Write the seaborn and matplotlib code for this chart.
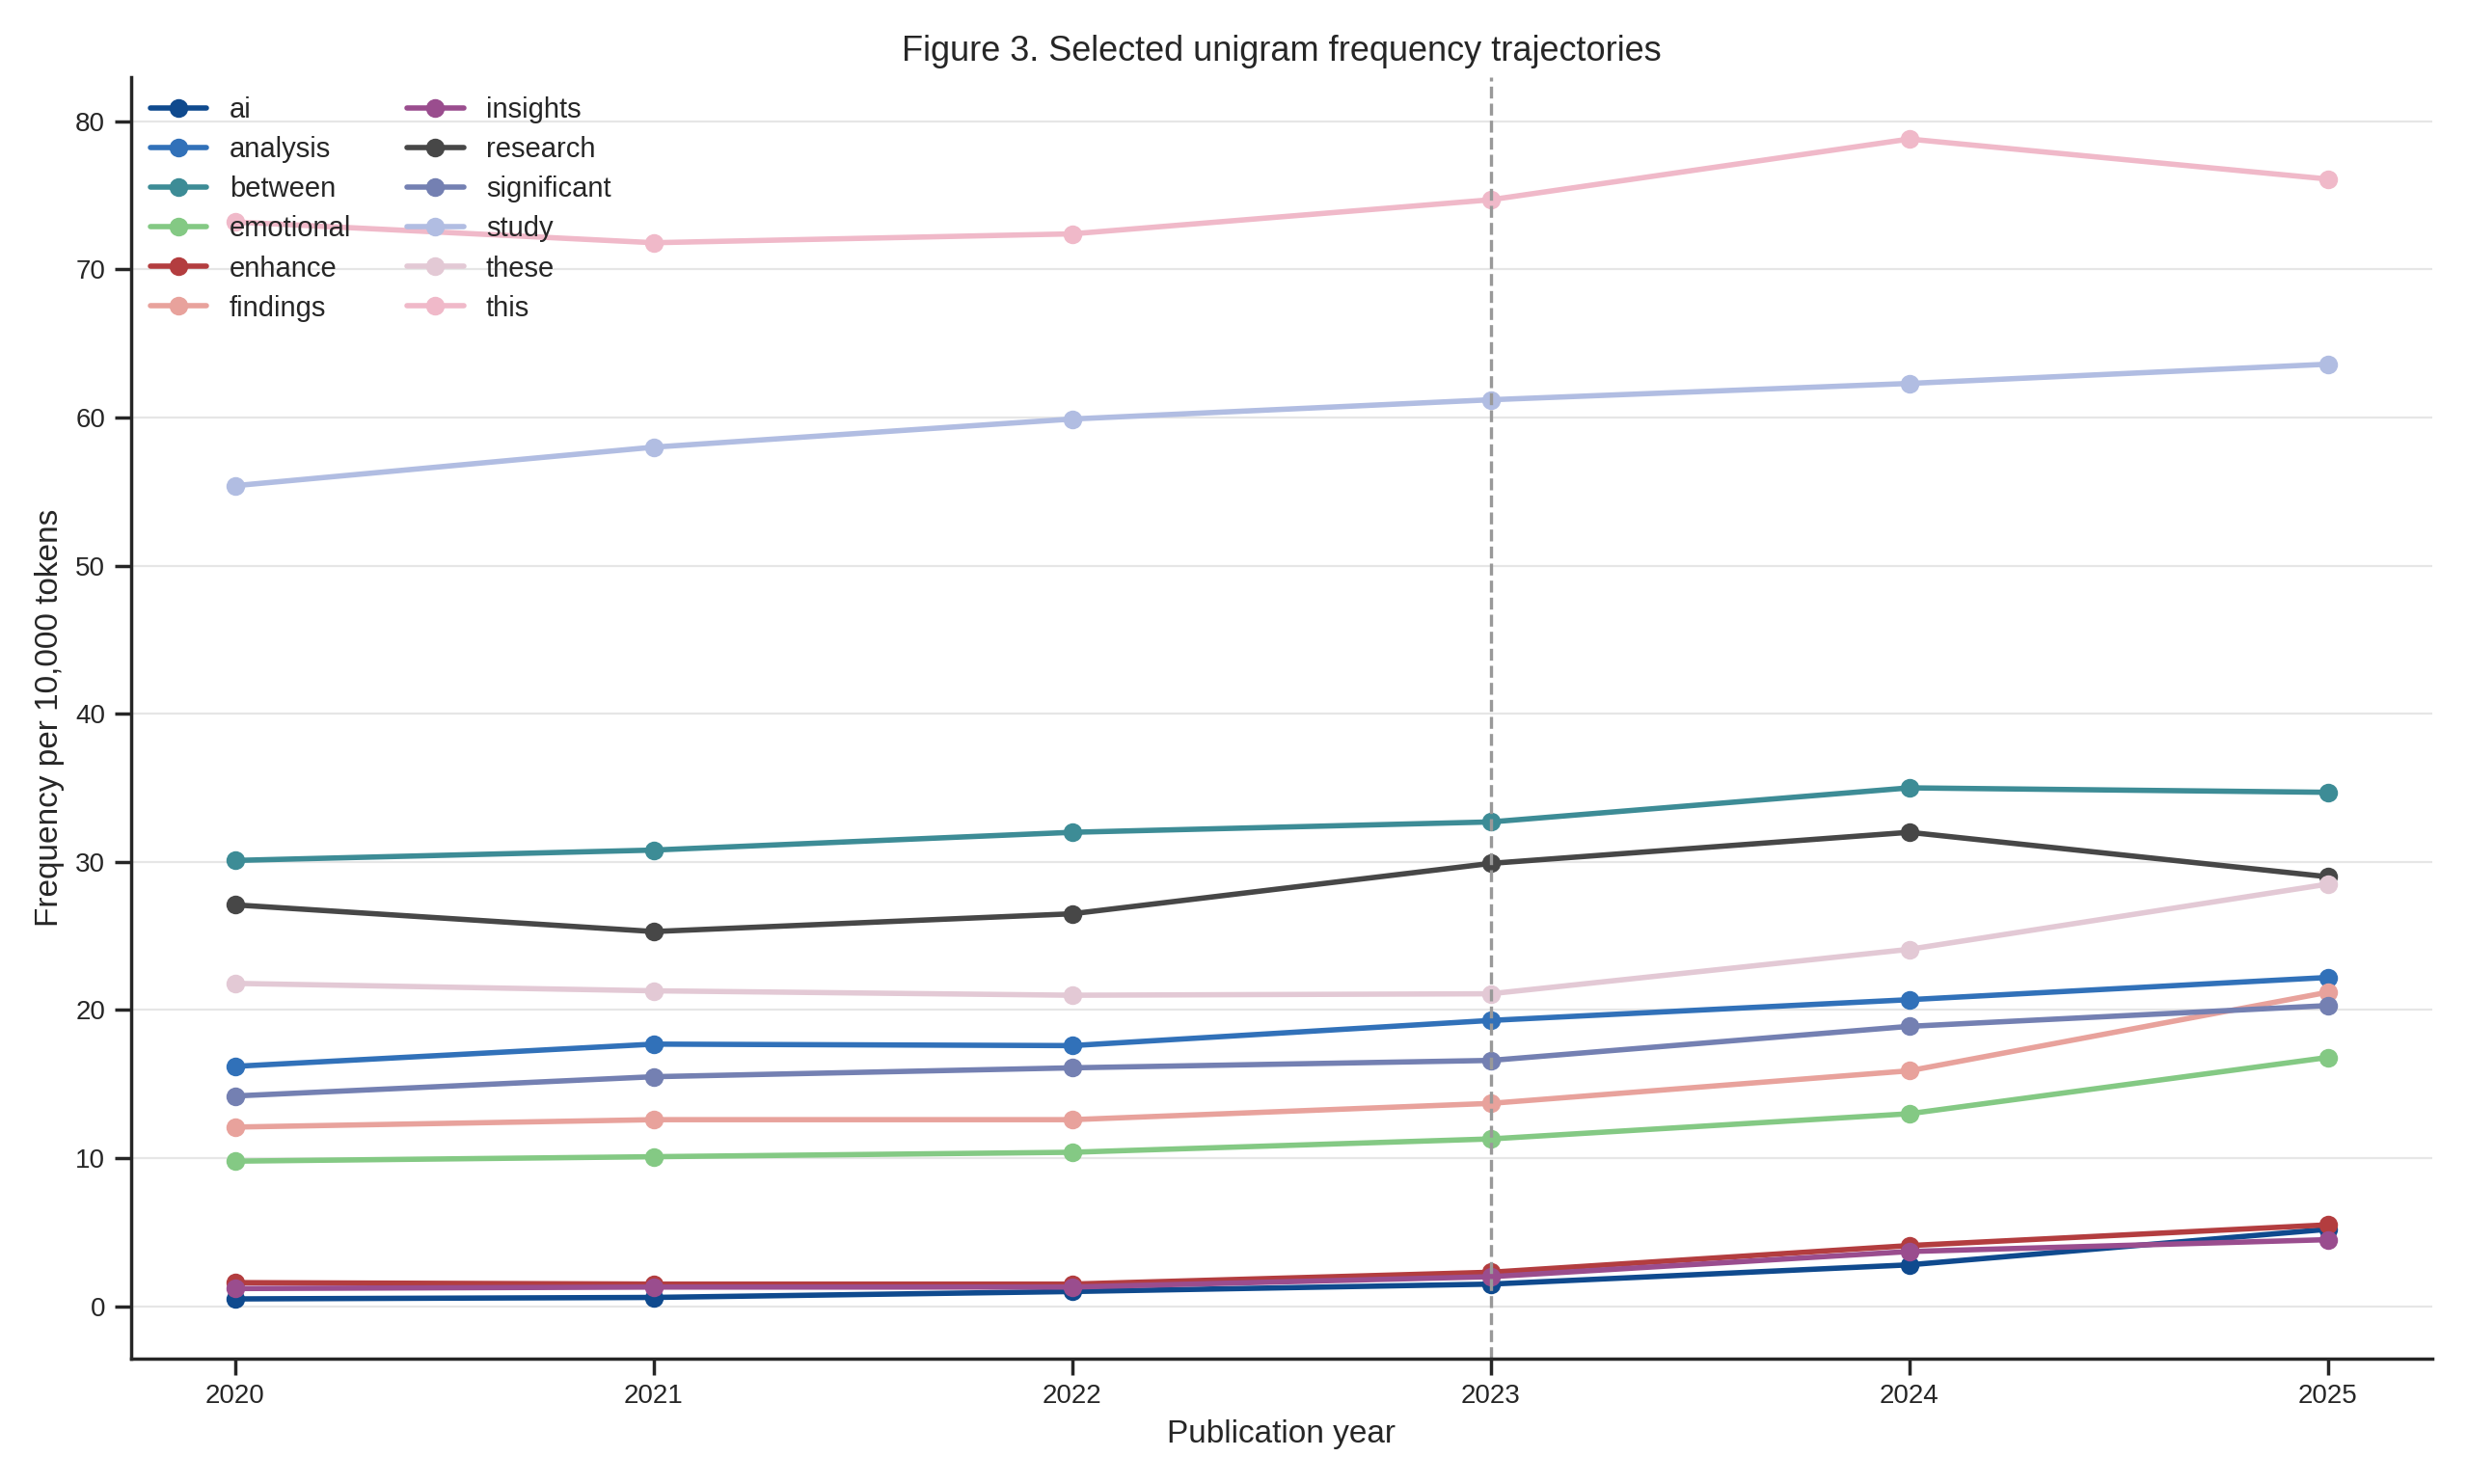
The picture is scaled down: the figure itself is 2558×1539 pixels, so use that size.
import matplotlib
matplotlib.use("Agg")
import matplotlib.pyplot as plt
import seaborn as sns
import pandas as pd

years = [2020, 2021, 2022, 2023, 2024, 2025]
terms = ["ai", "analysis", "between", "emotional", "enhance", "findings", "insights",
         "research", "significant", "study", "these", "this"]
ai = [0.5, 0.6, 1.0, 1.5, 2.8, 5.2]
analysis = [16.2, 17.7, 17.6, 19.3, 20.7, 22.2]
between = [30.1, 30.8, 32.0, 32.7, 35.0, 34.7]
emotional = [9.8, 10.1, 10.4, 11.3, 13.0, 16.8]
enhance = [1.6, 1.5, 1.5, 2.3, 4.1, 5.5]
findings = [12.1, 12.6, 12.6, 13.7, 15.9, 21.2]
insights = [1.2, 1.3, 1.3, 2.0, 3.7, 4.5]
research = [27.1, 25.3, 26.5, 29.9, 32.0, 29.0]
significant = [14.2, 15.5, 16.1, 16.6, 18.9, 20.3]
study = [55.4, 58.0, 59.9, 61.2, 62.3, 63.6]
these = [21.8, 21.3, 21.0, 21.1, 24.1, 28.5]
this = [73.2, 71.8, 72.4, 74.7, 78.8, 76.1]
series = [ai, analysis, between, emotional, enhance, findings, insights,
          research, significant, study, these, this]
colors = ["#0f4a8e", "#3171b9", "#3d8c96", "#84c984", "#b33d3f", "#e8a29c", "#9a4d8e",
          "#474747", "#7480b2", "#b1bde2", "#e3c9d5", "#f0b9c9"]

rows = [(y, t, v) for t, vals in zip(terms, series) for y, v in zip(years, vals)]
df = pd.DataFrame(rows, columns=["year", "term", "value"])

sns.set_theme(style="ticks")
plt.rcParams['font.family'] = ['Arial', 'Liberation Sans', 'DejaVu Sans']
fig, ax = plt.subplots(figsize=(12.79, 7.695), dpi=200)
ax.yaxis.grid(True, color="#e6e6e6", lw=0.8)
ax.set_axisbelow(True)
sns.lineplot(data=df, x="year", y="value", hue="term", hue_order=terms,
             palette=colors, marker="o", markersize=7, markeredgewidth=0,
             linewidth=2, ax=ax)
ax.axvline(2023, color="#999999", ls="--", lw=1.2)
ax.set_xticks(years)
ax.set_ylim(-3.5, 83)
ax.set_xlim(2019.75, 2025.25)
ax.set_xlabel("Publication year", fontsize=12)
ax.set_ylabel("Frequency per 10,000 tokens", fontsize=12)
ax.set_title("Figure 3. Selected unigram frequency trajectories", fontsize=13)
ax.tick_params(labelsize=10)
sns.despine(ax=ax)
ax.legend(ncol=2, loc="upper left", frameon=False, fontsize=10.5, title=None,
          columnspacing=2, handlelength=2, borderaxespad=0.3, labelspacing=0.45)
fig.tight_layout()
fig.savefig("out.png", dpi=200)
